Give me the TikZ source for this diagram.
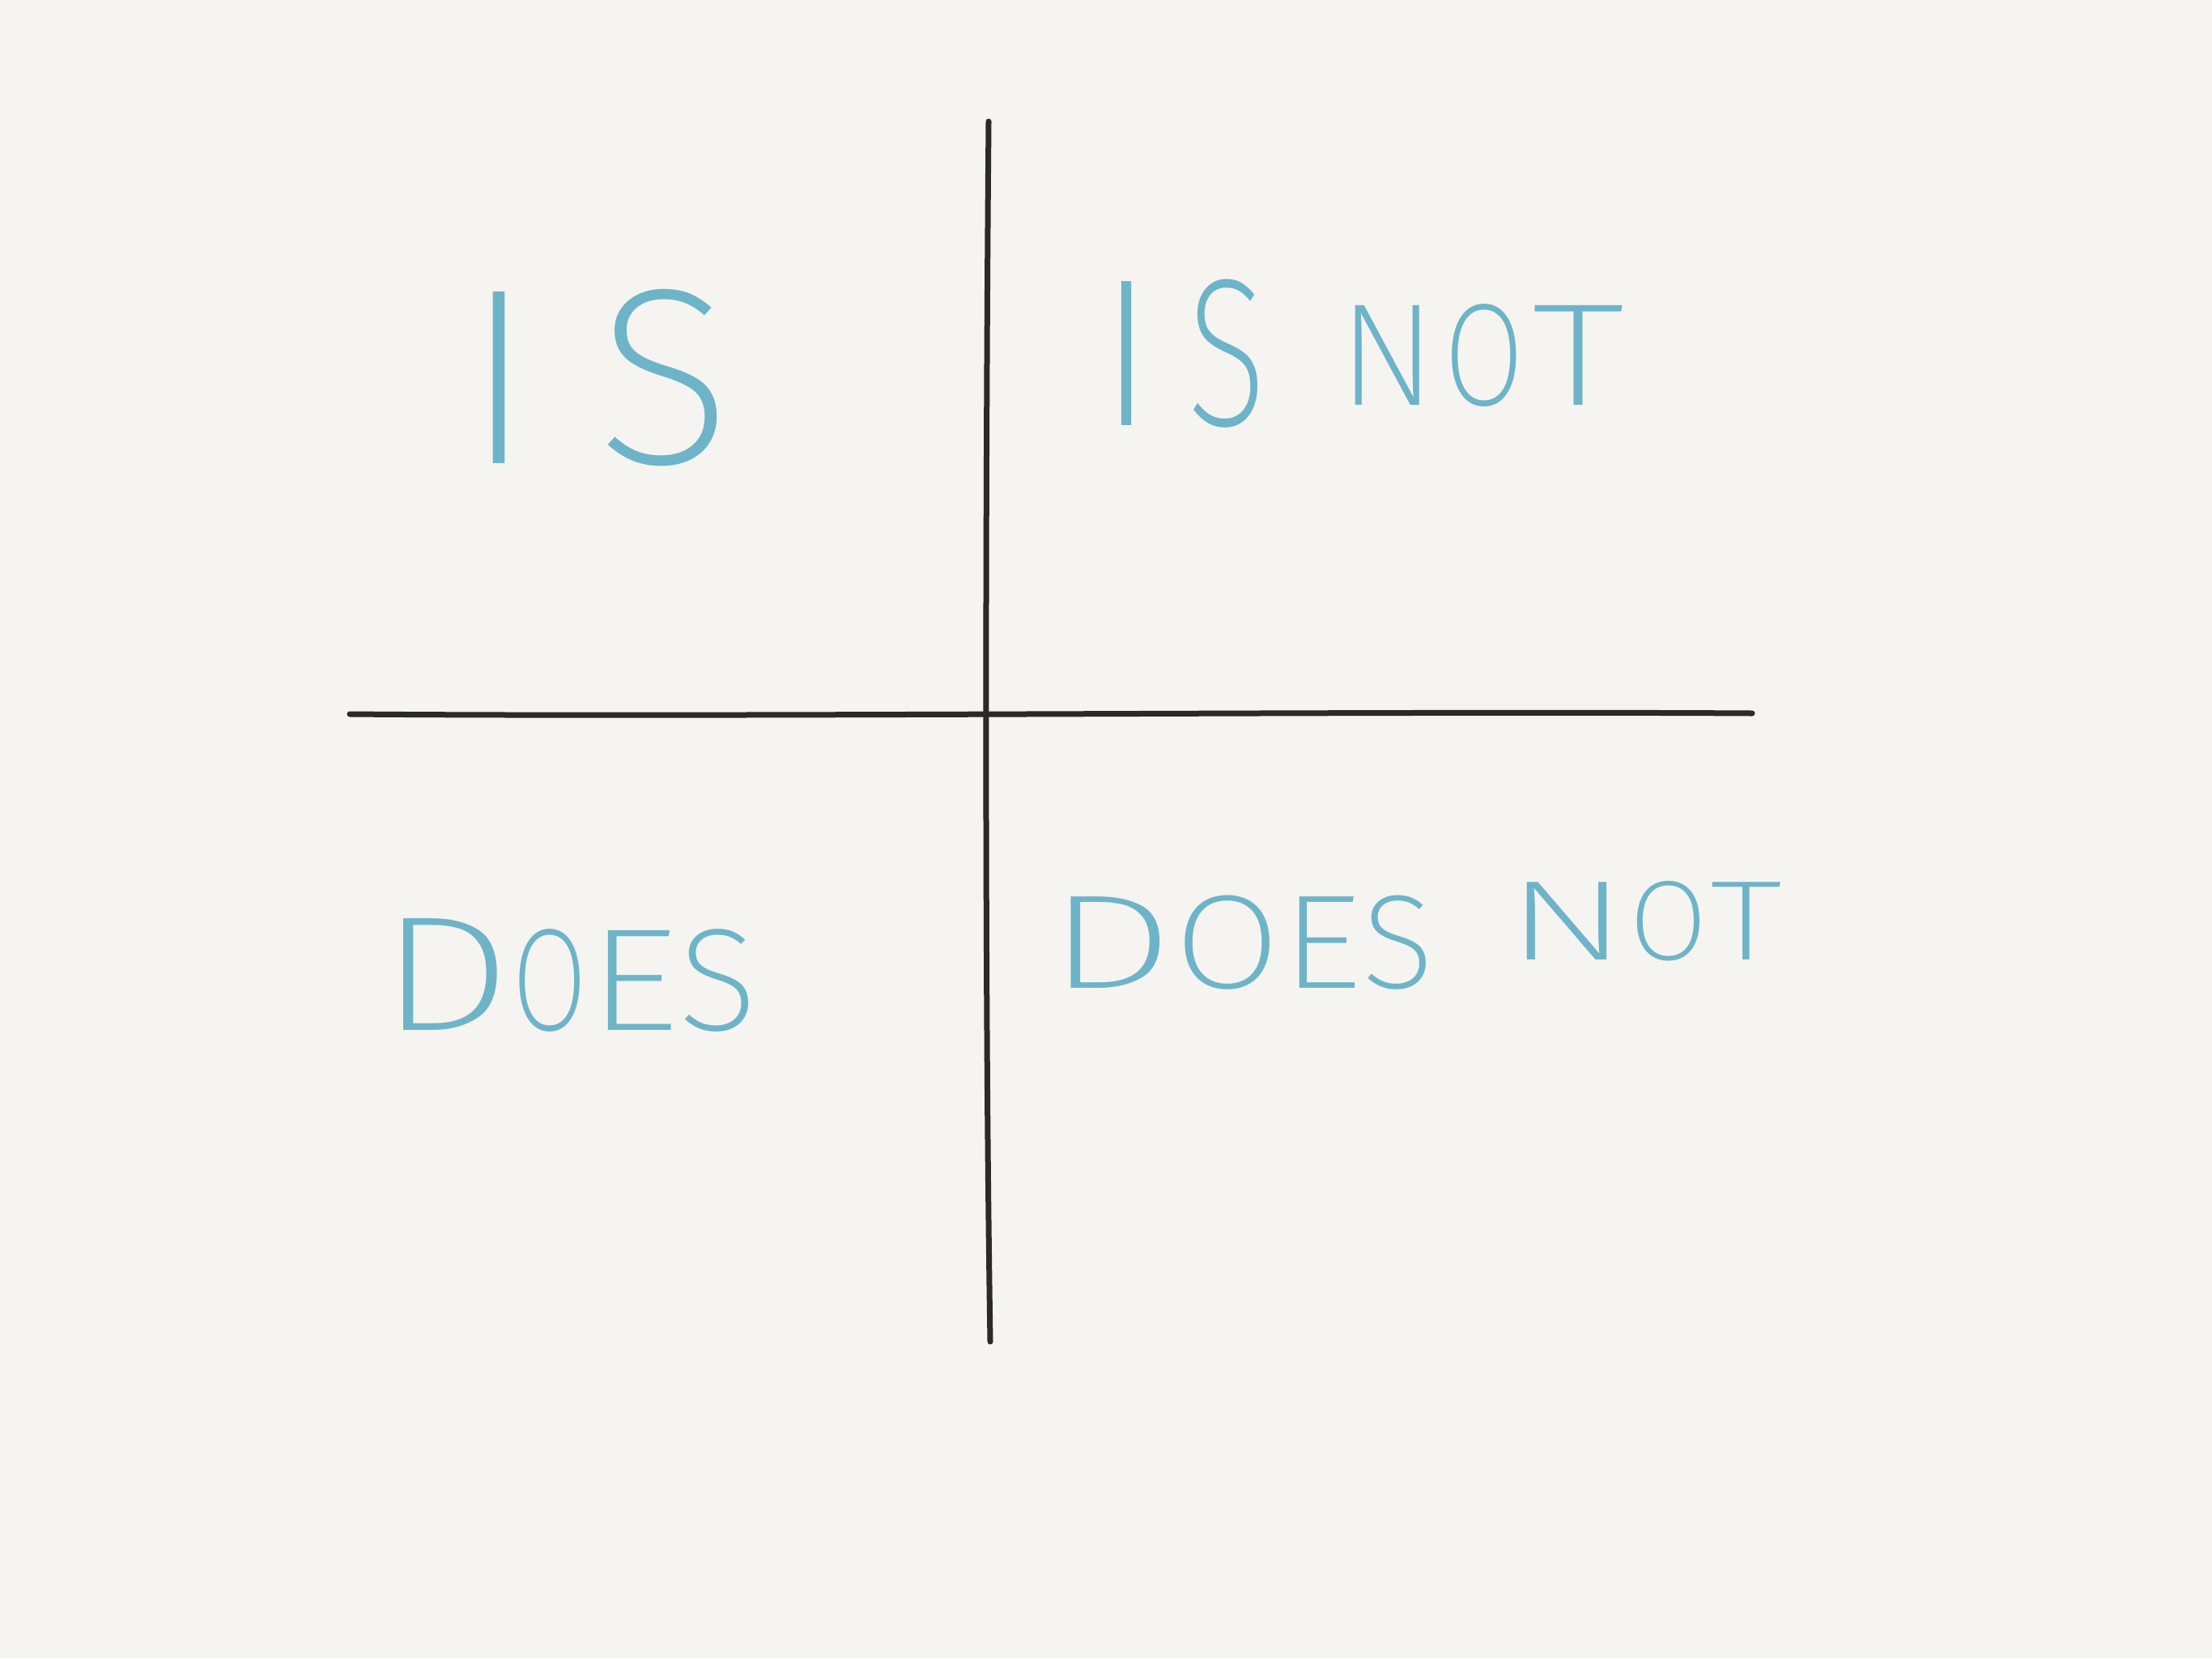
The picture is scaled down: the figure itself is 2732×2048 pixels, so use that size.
\documentclass[tikz,border=0pt]{standalone}
\usepackage{fontspec}
\newfontfamily\handfont{Fira Sans ExtraLight}
\definecolor{paper}{HTML}{F5F4F0}
\definecolor{ink}{HTML}{2B2A26}
\definecolor{chalk}{HTML}{6DB4C9}
% a word whose letters are spread over a fixed width
\newcommand\spreadword[2]{\makebox[#1][s]{#2}}
\newcommand\lettersize[1]{\fontsize{#1}{#1}\selectfont}
% one letter stretched or squeezed sideways (and optionally upwards)
\newcommand\wideletter[3][1]{\scalebox{#2}[#1]{#3}}
\begin{document}
\begin{tikzpicture}[x=1pt,y=-1pt,
  axis/.style={draw=ink,line width=7pt,line cap=round},
  word/.style={text=chalk,inner sep=0pt,anchor=base west,font=\handfont}]
\fill[paper] (0,0) rectangle (2732,2048);
\useasboundingbox (0,0) rectangle (2732,2048);
% the two axes
\coordinate (top) at (1221,150);
\coordinate (bottom) at (1223,1657);
\coordinate (left) at (432,882);
\coordinate (right) at (2164,881);
\draw[axis] (top) .. controls (1218,500) and (1215,1150) .. (bottom);
\draw[axis] (left) .. controls (900,886) and (1700,878) .. (right);
% quadrant labels
\node[word] (is) at (573,572) {\lettersize{310}\spreadword{331pt}{I\hfill S}};
\node[word] (isnot) at (1355,525)
  {\lettersize{260}\spreadword{209pt}{I\hfill\wideletter{0.7}{S}}\hspace{89pt}\raisebox{25pt}{\lettersize{180}\spreadword{353pt}{N\hfill\wideletter{0.8}{O}\hfill\wideletter{1.3}{T}}}};
\node[word] (does) at (468,1272)
  {\lettersize{180}\spreadword{455pt}{\wideletter[1.12]{1.45}{D}\hfill\wideletter{0.75}{O}\hfill\wideletter{1.25}{E}\hfill S}};
\node[word] (doesnot) at (1294,1220)
  {\lettersize{165}\spreadword{477pt}{\wideletter{1.5}{D}\hfill\wideletter{1.15}{O}\hfill\wideletter{1.2}{E}\hfill S}\hspace{89pt}\raisebox{35pt}{\lettersize{140}\spreadword{341pt}{\wideletter{1.6}{N}\hfill O\hfill\wideletter{1.3}{T}}}};
\end{tikzpicture}
\end{document}
